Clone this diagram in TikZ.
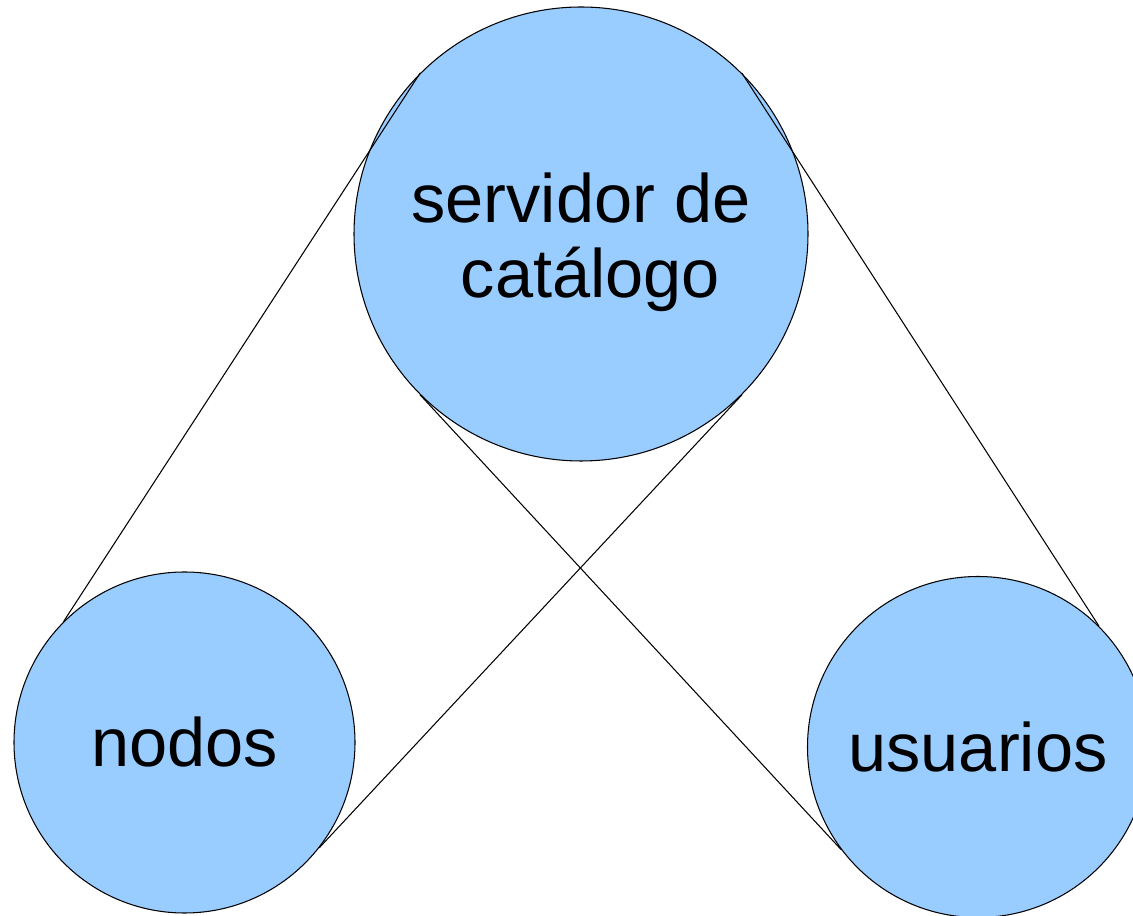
\documentclass[tikz,border=0pt]{standalone}
\usepackage{fontspec}
\setmainfont{Liberation Sans}
\begin{document}
\begin{tikzpicture}[
  disc/.style={circle, draw=black, line width=0.6pt, fill={rgb,255:red,153;green,204;blue,255},
    inner sep=0pt, align=center, font=\fontsize{39}{43}\selectfont},
  link/.style={draw=black, line width=0.6pt}]
\useasboundingbox (0,0) rectangle (22.66,18.3);
\node[disc, minimum size=9.08cm] (servidor) at (11.62,13.62) {\rule{0pt}{37.5pt}servidor de\\ \ catálogo};
\node[disc, minimum size=6.82cm] (nodos) at (3.69,3.45) {nodos};
\node[disc, minimum size=6.82cm] (usuarios) at (19.56,3.36) {usuarios};
\draw[link] (servidor.135) -- (nodos.135);
\draw[link] (servidor.45) -- (usuarios.45);
\draw[link] (servidor.225) -- (usuarios.217);
\draw[link] (servidor.315) -- (nodos.322);
\end{tikzpicture}
\end{document}
